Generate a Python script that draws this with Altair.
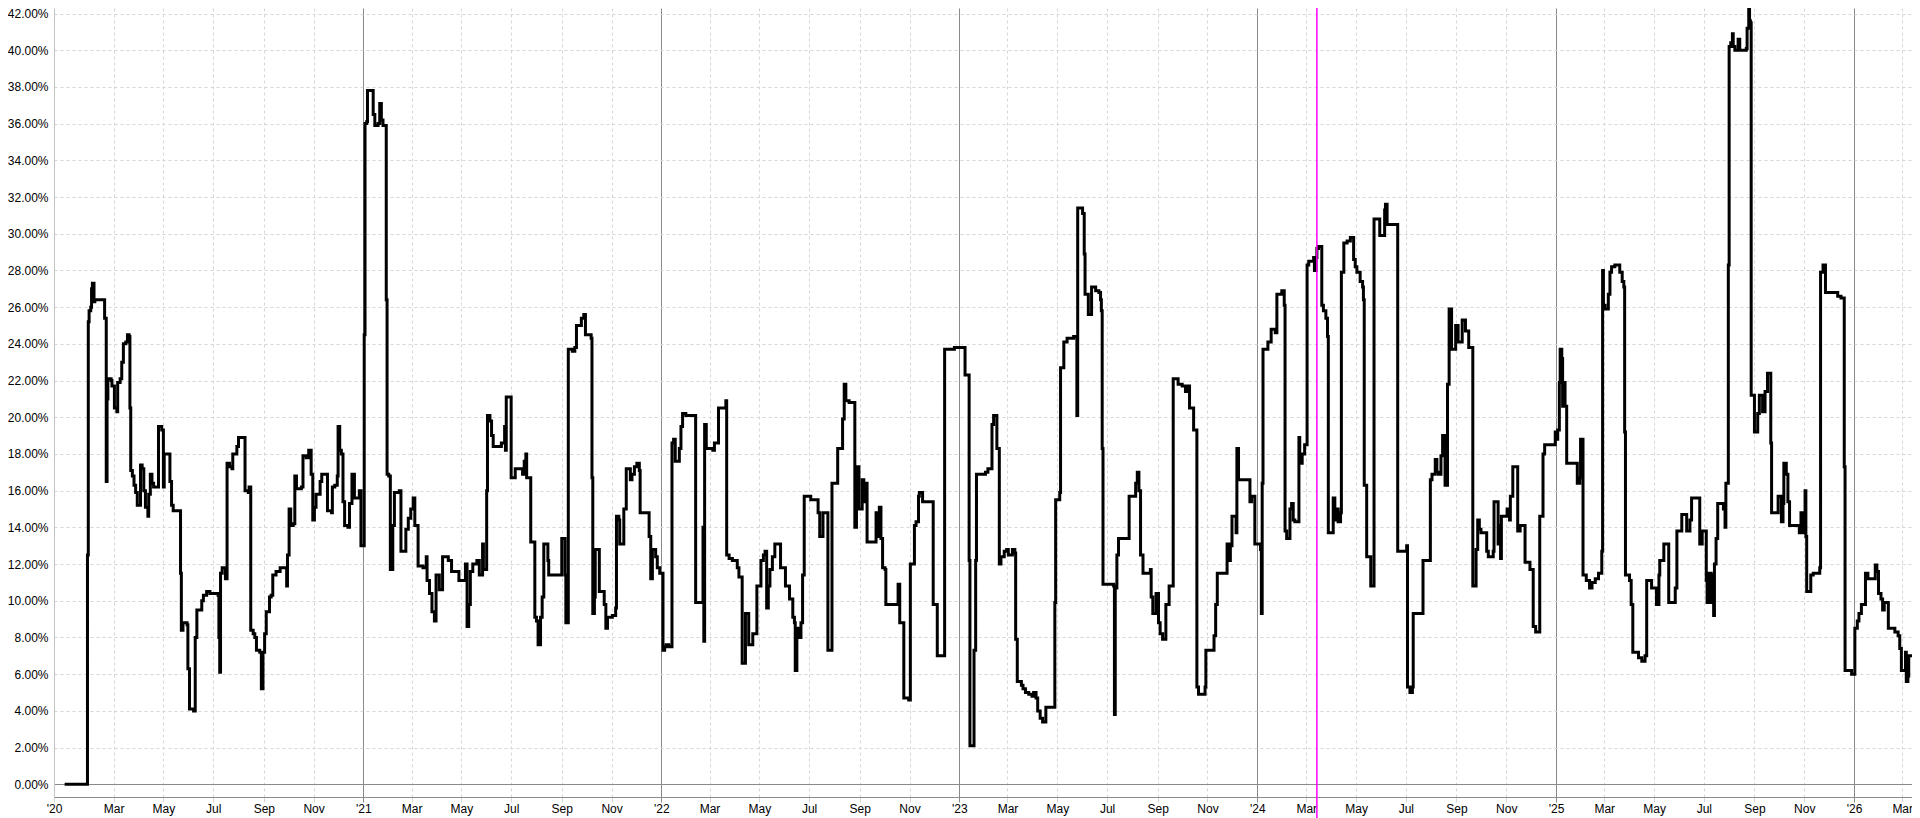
import altair as alt
import pandas as pd

# ---- data: day offsets from 2020-01-01 and value (%) at each change point ----
base_date = "2020-01-01"

days_2020 = [0, 28, 29, 30, 32, 33, 34, 36, 37, 49, 51, 52, 53, 57, 58, 61, 64, 65, 68, 70,
             72, 75, 77, 79, 80, 81, 83, 85, 87, 89, 93, 95, 97, 99, 102, 103, 105, 107, 109, 115,
             119, 121, 122, 129, 131, 133, 142, 143, 145, 150, 151, 153, 158, 160, 162, 168, 170, 174, 178, 188,
             189, 190, 191, 193, 197, 199, 202, 205, 206, 211, 213, 221, 225, 226, 228, 231, 233, 235, 239, 241,
             243, 245, 247, 251, 253, 255, 259, 264, 272, 273, 275, 277, 280, 282, 284, 290, 292, 296, 299, 302,
             304, 306, 308, 313, 315, 322, 327, 328, 331, 334, 335, 337, 339, 341, 343, 347, 349, 352, 355, 361,
             363]
vals_2020 = [0.0, 12.5, 25.2, 25.8, 26.0, 27.0, 27.3, 26.3, 26.4, 25.4, 16.5, 21.0, 22.1, 22.0, 21.7, 20.5, 20.3, 21.9, 22.1, 23.0,
             24.0, 24.1, 24.5, 24.4, 20.5, 17.1, 16.8, 16.3, 15.9, 15.2, 17.4, 17.2, 16.0, 15.1, 14.6, 15.8, 16.9, 16.4, 16.2, 19.5,
             19.3, 16.2, 18.0, 16.5, 15.2, 14.9, 11.5, 8.4, 8.8, 8.7, 6.3, 4.1, 4.0, 8.0, 9.5, 10.0, 10.3, 10.5, 10.4, 10.3,
             8.0, 6.1, 11.5, 11.8, 11.2, 17.5, 17.3, 17.2, 18.0, 18.4, 18.9, 16.0, 15.9, 16.2, 8.4, 8.2, 8.0, 7.3, 7.2, 5.2,
             7.2, 8.2, 9.4, 10.2, 10.3, 11.4, 11.6, 11.8, 10.8, 12.5, 15.0, 14.1, 14.2, 16.8, 16.1, 16.2, 17.9, 17.8, 18.2, 16.9,
             14.4, 15.1, 15.8, 16.5, 16.9, 14.9, 14.8, 16.2, 16.3, 16.8, 19.5, 18.2, 18.0, 15.4, 14.1, 14.0, 15.3, 16.9, 15.6, 16.0,
             13.0]

days_2021 = [367, 368, 370, 371, 378, 380, 384, 386, 388, 390, 394, 395, 397, 399, 402, 404, 410, 412, 418, 421,
             424, 427, 429, 433, 439, 443, 444, 447, 450, 453, 455, 459, 463, 470, 474, 483, 491, 493, 495, 497,
             500, 505, 508, 512, 513, 517, 518, 521, 523, 525, 535, 539, 540, 541, 547, 552, 561, 563, 565, 566,
             571, 576, 578, 580, 583, 585, 587, 592, 593, 609, 613, 614, 617, 622, 625, 627, 633, 636, 638, 645,
             646, 647, 649, 650, 655, 661, 663, 665, 671, 675, 676, 679, 680, 685, 688, 693, 695, 698, 701, 704,
             705, 716, 718, 720, 724, 726, 729]
vals_2021 = [24.5, 36.0, 36.1, 37.8, 36.5, 35.9, 36.0, 37.1, 36.2, 35.9, 26.4, 16.9, 16.8, 11.7, 14.1, 15.9, 16.0, 12.7, 13.9, 14.5,
             15.0, 15.6, 14.1, 11.9, 11.8, 12.4, 11.1, 10.4, 9.4, 8.9, 11.4, 10.6, 12.4, 12.2, 11.6, 11.1, 12.0, 8.6, 9.8, 11.6,
             12.0, 12.2, 11.4, 13.1, 11.7, 16.0, 20.1, 19.8, 19.0, 18.4, 18.6, 19.5, 18.2, 21.1, 16.7, 17.2, 16.9, 17.6, 18.0, 16.7,
             13.2, 9.1, 8.9, 7.6, 9.1, 10.2, 13.1, 12.2, 11.4, 13.4, 11.4, 8.8, 23.7, 23.6, 23.8, 25.0, 25.4, 25.6, 24.5, 24.3,
             16.7, 9.3, 10.2, 12.8, 10.5, 9.8, 8.5, 9.1, 9.2, 9.6, 14.6, 14.4, 13.1, 15.0, 17.2, 16.6, 16.9, 17.3, 17.5, 17.1,
             14.8, 13.5, 11.2, 12.8, 12.4, 11.8, 11.5]

days_2022 = [733, 735, 737, 740, 744, 746, 748, 753, 755, 757, 761, 773, 782, 783, 784, 786, 794, 796, 801, 810,
             811, 814, 818, 824, 826, 830, 834, 838, 843, 848, 853, 856, 858, 860, 862, 864, 867, 870, 877, 883,
             888, 892, 894, 895, 897, 899, 902, 904, 906, 914, 923, 925, 929, 935, 940, 947, 953, 955, 957, 961,
             968, 970, 973, 977, 979, 981, 983, 994, 996, 998, 1000, 1002, 1005, 1006, 1021, 1023, 1028, 1034, 1036, 1041,
             1043, 1046, 1047, 1051, 1064, 1069, 1078, 1090]
vals_2022 = [7.3, 7.5, 7.6, 7.5, 18.6, 18.8, 17.6, 18.3, 19.5, 20.2, 20.1, 9.9, 14.0, 7.8, 19.6, 18.3, 18.2, 18.6, 20.5, 20.9,
             12.5, 12.3, 12.2, 11.8, 11.3, 6.6, 9.3, 7.6, 8.2, 10.8, 12.2, 12.5, 12.7, 9.6, 10.8, 11.7, 12.4, 13.1, 11.8, 10.8,
             10.1, 9.1, 8.8, 6.2, 8.5, 8.0, 8.8, 11.4, 15.7, 15.5, 14.8, 13.5, 14.8, 7.3, 16.4, 18.3, 19.9, 21.8, 20.9, 20.8,
             14.0, 17.3, 15.0, 16.6, 15.4, 16.4, 13.2, 14.8, 13.5, 15.1, 13.4, 11.8, 11.7, 9.8, 10.9, 8.8, 4.7, 4.6, 12.0, 14.1,
             14.3, 15.7, 15.9, 15.4, 9.8, 7.0, 23.7, 23.8]

days_2023 = [1103, 1108, 1109, 1114, 1116, 1117, 1128, 1131, 1136, 1138, 1142, 1145, 1147, 1151, 1154, 1156, 1161, 1164, 1165, 1167,
             1172, 1174, 1177, 1181, 1185, 1187, 1190, 1192, 1195, 1198, 1202, 1213, 1214, 1219, 1220, 1224, 1228, 1236, 1240, 1241,
             1247, 1249, 1250, 1254, 1258, 1263, 1267, 1269, 1270, 1271, 1272, 1285, 1286, 1287, 1289, 1291, 1304, 1312, 1314, 1316,
             1318, 1321, 1330, 1331, 1333, 1337, 1340, 1342, 1345, 1349, 1353, 1358, 1364, 1369, 1373, 1376, 1378, 1383, 1387, 1389,
             1397, 1398, 1408, 1410, 1412, 1424, 1427, 1428, 1430, 1435, 1436, 1438, 1452, 1454, 1458]
vals_2023 = [22.3, 12.2, 2.1, 7.3, 12.2, 16.9, 17.0, 17.2, 19.6, 20.1, 18.3, 12.0, 12.4, 12.7, 12.8, 12.5, 12.8, 12.6, 7.9, 5.6,
             5.4, 5.2, 5.0, 4.9, 4.8, 5.0, 4.7, 4.0, 3.6, 3.4, 4.2, 9.9, 15.5, 15.9, 22.7, 24.1, 24.3, 24.4, 20.1, 31.4,
             31.1, 28.9, 26.7, 25.6, 27.1, 26.9, 26.8, 26.4, 25.8, 18.3, 10.9, 10.8, 3.8, 10.7, 12.5, 13.4, 15.7, 16.4, 17.0, 16.0,
             12.5, 11.5, 11.7, 10.2, 9.3, 10.4, 8.8, 8.2, 7.9, 9.8, 10.8, 22.1, 21.8, 21.7, 21.4, 21.7, 20.5, 19.3, 5.3, 4.9,
             5.3, 7.3, 8.1, 9.8, 11.5, 13.1, 12.2, 13.0, 14.6, 13.7, 18.3, 16.6, 15.4, 15.7, 13.1]

days_2024 = [1465, 1466, 1467, 1468, 1474, 1478, 1483, 1485, 1491, 1494, 1495, 1497, 1501, 1503, 1505, 1507, 1512, 1513, 1516, 1519,
             1522, 1524, 1530, 1531, 1533, 1534, 1536, 1540, 1542, 1545, 1547, 1548, 1554, 1556, 1558, 1560, 1563, 1564, 1567, 1571,
             1575, 1579, 1581, 1583, 1587, 1590, 1591, 1592, 1595, 1600, 1604, 1611, 1617, 1618, 1620, 1633, 1644, 1645, 1648, 1651,
             1652, 1664, 1673, 1675, 1679, 1681, 1683, 1686, 1688, 1691, 1694, 1696, 1699, 1704, 1707, 1712, 1716, 1720, 1725, 1729,
             1731, 1733, 1735, 1742, 1744, 1750, 1751, 1756, 1757, 1759, 1760, 1767, 1770, 1771, 1774, 1780, 1783, 1789, 1795, 1799,
             1802, 1807, 1811, 1813, 1826]
vals_2024 = [12.8, 9.3, 16.4, 23.7, 24.1, 24.8, 24.6, 26.7, 26.9, 26.1, 13.8, 13.4, 15.0, 15.3, 14.4, 14.3, 18.9, 17.5, 18.0, 18.5,
             28.3, 28.5, 28.7, 28.0, 28.7, 29.2, 29.3, 26.1, 25.8, 25.4, 24.4, 13.7, 15.6, 14.4, 15.0, 14.3, 14.8, 27.9, 29.5, 29.6,
             29.8, 28.6, 28.2, 27.9, 27.4, 27.1, 26.4, 16.3, 12.4, 10.8, 30.8, 29.9, 31.3, 31.6, 30.5, 12.7, 13.0, 5.3, 5.0, 5.3,
             9.3, 12.2, 16.6, 16.9, 17.7, 17.0, 16.9, 17.9, 19.0, 16.3, 21.8, 25.9, 23.7, 25.0, 24.1, 25.3, 24.7, 23.8, 10.8, 12.8,
             14.4, 13.9, 13.7, 12.7, 12.4, 12.7, 15.4, 13.1, 14.1, 12.3, 14.6, 15.0, 14.4, 15.7, 17.3, 13.8, 14.1, 12.1, 11.7, 8.6,
             8.3, 14.6, 18.0, 18.5, 19.2]

days_2025 = [1828, 1829, 1831, 1832, 1834, 1835, 1836, 1838, 1840, 1853, 1856, 1857, 1860, 1864, 1868, 1871, 1875, 1879, 1883, 1884,
             1885, 1887, 1891, 1893, 1895, 1899, 1905, 1908, 1910, 1911, 1912, 1917, 1919, 1921, 1928, 1932, 1936, 1938, 1944, 1950,
             1953, 1954, 1959, 1965, 1973, 1975, 1981, 1987, 1991, 1993, 2003, 2006, 2011, 2012, 2014, 2017, 2018, 2020, 2021, 2023,
             2025, 2032, 2034, 2035, 2038, 2039, 2041, 2043, 2044, 2046, 2050, 2052, 2060, 2061, 2063, 2064, 2065, 2066, 2070, 2074,
             2076, 2080, 2083, 2086, 2090, 2091, 2099, 2103, 2105, 2106, 2109, 2111, 2113, 2125, 2127, 2129, 2132, 2133, 2134, 2139,
             2142, 2150, 2151, 2154, 2157, 2172, 2176, 2180, 2181, 2189]
vals_2025 = [18.8, 19.3, 21.9, 23.7, 23.2, 20.6, 21.9, 20.6, 17.5, 16.4, 16.7, 18.8, 11.4, 11.1, 10.7, 11.0, 11.2, 11.5, 12.7, 28.0,
             26.1, 25.9, 26.7, 27.9, 28.2, 28.3, 27.9, 27.4, 27.1, 19.2, 11.4, 11.1, 9.8, 7.2, 6.9, 6.7, 7.0, 11.1, 10.7, 9.8,
             11.4, 12.2, 13.1, 9.9, 10.7, 13.8, 14.7, 13.8, 14.4, 15.6, 13.1, 13.8, 11.1, 9.9, 11.5, 9.9, 11.4, 9.2, 12.0, 13.4,
             15.3, 15.0, 14.0, 16.4, 28.3, 40.2, 40.4, 40.9, 40.2, 40.0, 40.6, 40.0, 40.1, 41.2, 42.4, 41.6, 41.5, 21.2, 19.2, 20.2,
             21.2, 20.3, 21.4, 22.4, 18.6, 14.8, 15.7, 14.3, 15.3, 17.5, 16.9, 15.4, 14.1, 13.7, 14.8, 13.7, 16.0, 13.5, 10.5, 11.4,
             11.5, 11.8, 27.9, 28.3, 26.8, 26.6, 26.5, 17.3, 6.2, 6.0]

days_2026 = [2193, 2196, 2198, 2201, 2206, 2209, 2218, 2220, 2222, 2225, 2227, 2229, 2234, 2242, 2246, 2248, 2250, 2255, 2256, 2258,
             2259, 2265]
vals_2026 = [8.5, 8.9, 9.3, 9.8, 11.5, 11.2, 11.95, 11.6, 10.4, 10.1, 9.5, 9.9, 8.5, 8.3, 8.1, 7.4, 6.2, 7.2, 5.6, 5.9,
             7.0, 7.0]

marker_date = "2024-03-14"
y_ticks = list(range(0, 43, 2))

# ---- build table ----
days = days_2020 + days_2021 + days_2022 + days_2023 + days_2024 + days_2025 + days_2026
vals = vals_2020 + vals_2021 + vals_2022 + vals_2023 + vals_2024 + vals_2025 + vals_2026
dates = (pd.Timestamp(base_date) + pd.to_timedelta(days, unit="D")).strftime("%Y-%m-%d")
df = pd.DataFrame({"date": list(dates), "value": vals})


def ms(y, m, d=1):
    return int(pd.Timestamp(year=y, month=m, day=d, tz="UTC").timestamp() * 1000)


x_start, x_end = "2019-12-19", "2026-03-13"
tick_values = [ms(2019, 12, 19)]
for yr in range(2020, 2026):
    for mo in [1, 3, 5, 7, 9, 11]:
        if yr == 2020 and mo == 1:
            continue
        tick_values.append(ms(yr, mo))
tick_values += [ms(2026, 1), ms(2026, 3)]

W, H = 1858, 789
FONT = "Liberation Sans"
year_test = "utcmonth(datum.value) == 0 && utcyear(datum.value) >= 2020"

x_enc = alt.X(
    "date:T",
    scale=alt.Scale(type="utc", domain=[x_start, x_end]),
    axis=alt.Axis(
        values=tick_values,
        title=None,
        labelExpr="utcyear(datum.value) < 2020 ? \"'20\" : (utcmonth(datum.value) == 0 ? \"'\" + utcFormat(datum.value, '%y') : utcFormat(datum.value, '%b'))",
        labelFont=FONT, labelFontSize=12, labelColor="#000000",
        labelPadding=1, labelOverlap=False, labelFlush=False,
        grid=True,
        gridColor={"condition": {"test": year_test, "value": "#8a8a8a"}, "value": "#d6d6d6"},
        gridDash={"condition": {"test": year_test, "value": []}, "value": [3, 3]},
        gridWidth=1,
        tickSize=5,
        tickColor={"condition": {"test": year_test, "value": "#8a8a8a"}, "value": "#d6d6d6"},
        domainColor="#8a8a8a",
    ),
)

y_enc = alt.Y(
    "value:Q",
    scale=alt.Scale(domain=[-0.692, 42.30], nice=False, zero=False),
    axis=alt.Axis(
        values=y_ticks,
        title=None,
        orient="left",
        labelExpr="format(datum.value, '.2f') + '%'",
        labelFont=FONT, labelFontSize=12, labelColor="#000000",
        labelPadding=6,
        ticks=False,
        grid=True,
        gridColor={"condition": {"test": "datum.value == 0", "value": "#8a8a8a"}, "value": "#d6d6d6"},
        gridDash={"condition": {"test": "datum.value == 0", "value": []}, "value": [3, 3]},
        domainColor="#c4c4c4",
    ),
)

line = alt.Chart(df).mark_line(
    interpolate="step-after", color="#000000", strokeWidth=3, clip=True
).encode(x=x_enc, y=y_enc)

marker = alt.Chart(pd.DataFrame({"date": [marker_date]})).mark_rule(
    color="#ff00ff", strokeWidth=1.5, clip=False
).encode(x=alt.X("date:T"), y=alt.value(-10), y2=alt.value(H + 40))

chart = (
    alt.layer(line, marker)
    .properties(
        width=W, height=H,
        autosize=alt.AutoSizeParams(type="none"),
        padding={"left": 46, "top": 0, "right": 0, "bottom": 21},
        background="#ffffff",
    )
    .configure_view(stroke=None)
)

chart.save("out.html", embed_options={"renderer": "svg", "actions": False})
